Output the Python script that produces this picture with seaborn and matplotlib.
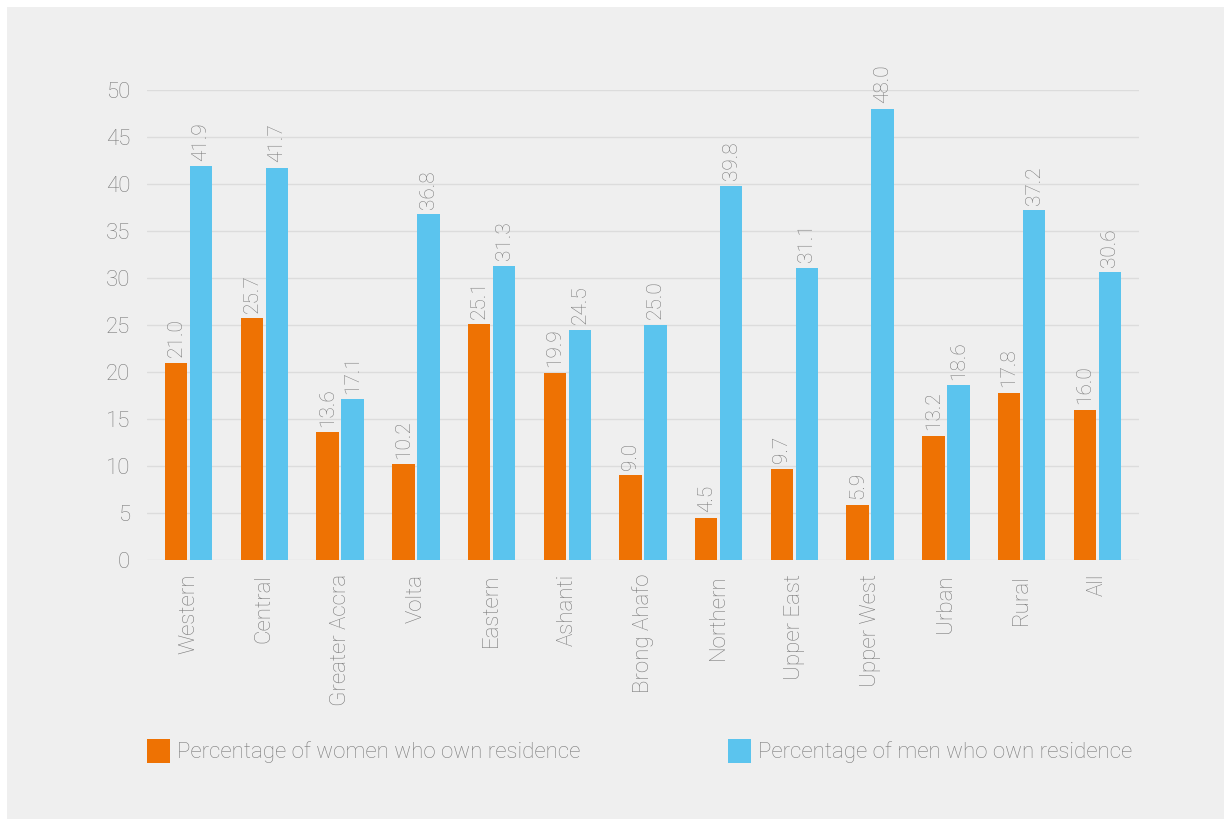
import pandas as pd
import seaborn as sns
import matplotlib.pyplot as plt
from matplotlib.patches import Rectangle

# DATA
regions = ['Western', 'Central', 'Greater Accra', 'Volta', 'Eastern', 'Ashanti',
           'Brong Ahafo', 'Northern', 'Upper East', 'Upper West', 'Urban', 'Rural', 'All']
women = [21.0, 25.7, 13.6, 10.2, 25.1, 19.9, 9.0, 4.5, 9.7, 5.9, 13.2, 17.8, 16.0]
men = [41.9, 41.7, 17.1, 36.8, 31.3, 24.5, 25.0, 39.8, 31.1, 48.0, 18.6, 37.2, 30.6]
series = ['Percentage of women who own residence', 'Percentage of men who own residence']
y_ticks = [0, 5, 10, 15, 20, 25, 30, 35, 40, 45, 50]

df = pd.DataFrame({
    'Region': regions * 2,
    'Series': [series[0]] * len(regions) + [series[1]] * len(regions),
    'Value': women + men,
})

# STYLE
BG = '#efefef'
GREY = '#7c7c7c'
colors = {series[0]: '#ee7203', series[1]: '#5bc4ee'}

sns.set_theme(style='white')
plt.rcParams['font.family'] = ['Roboto', 'DejaVu Sans']
plt.rcParams['font.weight'] = 'light'

fig = plt.figure(figsize=(12.31, 8.26), dpi=100, facecolor='white')
fig.patches.append(Rectangle((7 / 1231, 7 / 826), 1217 / 1231, 812 / 826,
                             transform=fig.transFigure, facecolor=BG,
                             edgecolor='none', zorder=-10))
ax = fig.add_axes([147 / 1231, 1 - 560 / 826, 992 / 1231, 470 / 826])
ax.set_facecolor(BG)

sns.barplot(data=df, x='Region', y='Value', hue='Series', order=regions,
            hue_order=series, palette=colors, width=0.66, gap=0.1,
            saturation=1, linewidth=0, ax=ax)

for cont in ax.containers:
    ax.bar_label(cont, fmt='%.1f', rotation=90, padding=4, color=GREY,
                 fontsize=15, clip_on=False)

ax.set_ylim(0, 50)
ax.set_xlim(-0.55, len(regions) - 0.45)
ax.set_yticks(y_ticks)
ax.yaxis.grid(True, color='#dcdcdc', linewidth=1)
ax.set_axisbelow(True)
for s in ax.spines.values():
    s.set_visible(False)
ax.tick_params(axis='y', length=0, pad=12, labelsize=16, labelcolor=GREY)
ax.tick_params(axis='x', length=0, pad=10, labelsize=16, labelcolor=GREY)
plt.setp(ax.get_xticklabels(), rotation=90)
ax.set_xlabel('')
ax.set_ylabel('')

# LEGEND - two entries placed apart
handles, labels = ax.get_legend_handles_labels()
ax.get_legend().remove()
for h, l, x0 in zip(handles, labels, [147 / 1231, 728 / 1231]):
    h.set_linewidth(0)
    fig.legend([h], [l], loc='center left', bbox_to_anchor=(x0, 1 - 751 / 826),
               frameon=False, fontsize=16, labelcolor=GREY, borderpad=0,
               borderaxespad=0, handlelength=1.05, handleheight=1.35,
               handletextpad=0.3)

plt.savefig('out.png', dpi=100, facecolor='white')
